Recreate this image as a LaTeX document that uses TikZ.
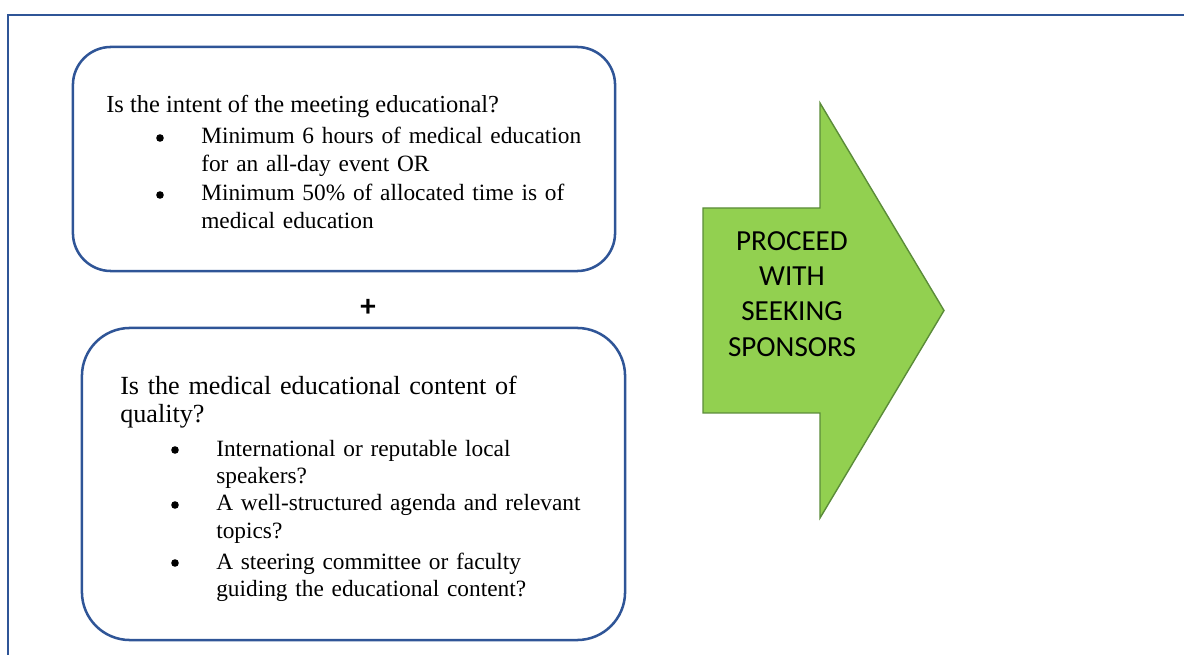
\documentclass[tikz,border=0pt]{standalone}
\usepackage{fontspec}
\setmainfont{Liberation Serif}
\newfontfamily\calibrifont{Carlito}
\usetikzlibrary{positioning}

\definecolor{frameblue}{HTML}{2F5597}
\definecolor{arrowfill}{HTML}{92D050}
\definecolor{arrowline}{HTML}{5B8C39}

\tikzset{
  qbox/.style={draw=frameblue, line width=1.8pt, inner sep=0pt},
  txt/.style={anchor=base west, inner sep=0pt, font=\fontsize{17.4}{19.5}\selectfont},
  item/.style={txt, text width=11cm, align=left, font=\fontsize{16.6}{19.5}\selectfont},
  dot/.style={circle, fill=black, inner sep=0pt, minimum size=0.19cm},
  arrowshape/.style={fill=arrowfill, draw=arrowline, line width=1pt, line join=miter}
}

\begin{document}
\begin{tikzpicture}[x=0.025cm, y=-0.025cm]
\useasboundingbox (0,0) rectangle (1184,655);
% frame round the page, cut at right and bottom
\draw[frameblue, line width=1.4pt] (8,15) rectangle (1230,700);

% first question
\node[qbox, rounded corners=0.95cm, minimum width=13.55cm, minimum height=5.6cm] (intent) at (344,159) {};
\node[txt] (intenthead) at (106,113) {Is the intent of the meeting educational?};
\node[dot] (intentdot1) at (160,138) {};
\node[item] (intent1) at (201,144) {Minimum 6 hours of medical education\\for an all-day event OR};
\node[dot] (intentdot2) at (160,195) {};
\node[item] (intent2) at (201,201) {Minimum 50\% of allocated time is of\\medical education};

\node[font=\calibrifont\bfseries\fontsize{22}{24}\selectfont, inner sep=0pt] (plus) at (368,308) {+};

% second question
\node[qbox, rounded corners=1.2cm, minimum width=13.575cm, minimum height=7.8cm] (quality) at (353.5,484) {};
\node[item, font=\fontsize{18.6}{19.8}\selectfont] (qualityhead) at (120,395) {Is the medical educational content of\\quality?};
\node[dot] (qualitydot1) at (175,450) {};
\node[item, font=\fontsize{16.6}{19.8}\selectfont] (quality1) at (216,456) {International or reputable local\\speakers?};
\node[dot] (qualitydot2) at (175,505) {};
\node[item, font=\fontsize{16.6}{19.8}\selectfont] (quality2) at (216,511) {A well-structured agenda and relevant\\topics?};
\node[dot] (qualitydot3) at (175,563) {};
\node[item, font=\fontsize{16.6}{19.8}\selectfont] (quality3) at (216,569) {A steering committee or faculty\\guiding the educational content?};

% big arrow
\draw[arrowshape] (703,208) -- (820,208) -- (820,103) -- (944,310.5) -- (820,518) -- (820,413) -- (703,413) -- cycle;
\node[align=center, inner sep=0pt, font=\calibrifont\fontsize{20.7}{25}\selectfont] (proceed) at (792,294) {PROCEED\\WITH\\SEEKING\\SPONSORS};
\end{tikzpicture}
\end{document}
